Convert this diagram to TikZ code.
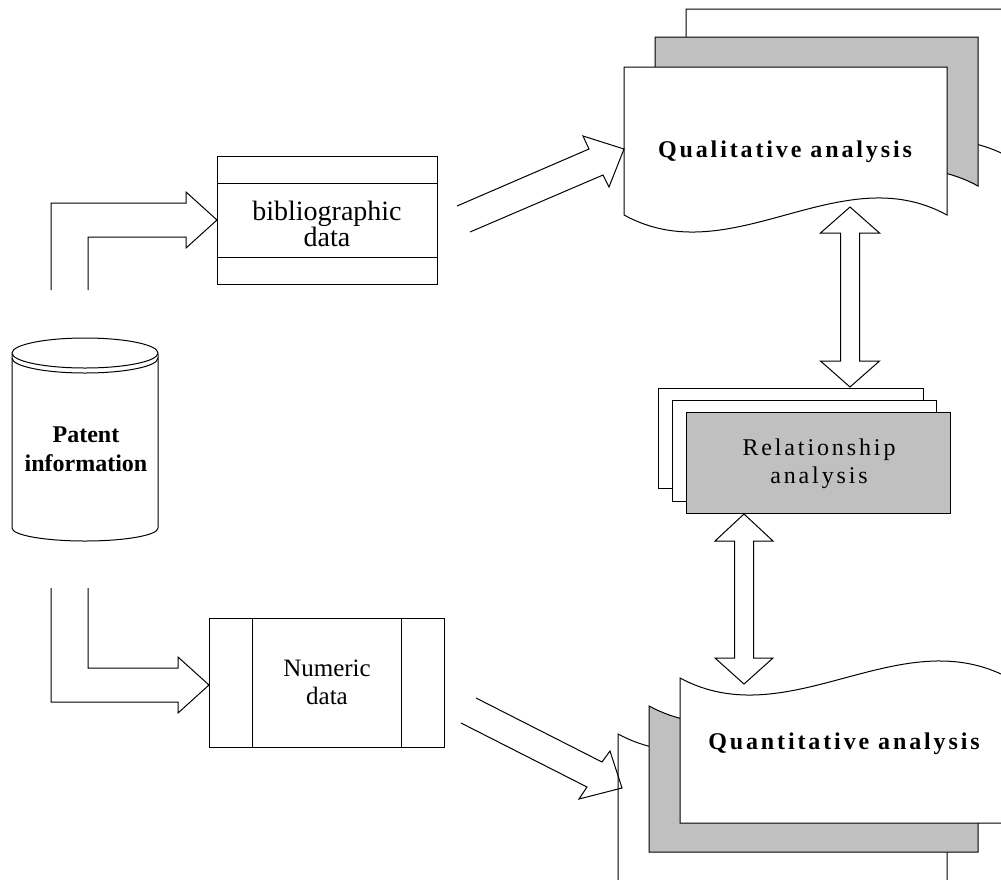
\documentclass[tikz,border=0pt]{standalone}
\usepackage{fontspec}
\setmainfont{Liberation Serif}
\newfontfamily\lsfont[LetterSpace=12]{Liberation Serif}
\newfontfamily\lsfontb[LetterSpace=12]{Liberation Serif}
\definecolor{sheetgray}{RGB}{192,192,192}
\tikzset{
  sheet/.style={draw=black, line width=1pt, line join=miter},
  blockarrow/.style={draw=black, line width=1pt, line join=miter},
  txt/.style={inner sep=0pt, align=center, text=black}
}
\newcommand\qualsheet[4]{\path[sheet, fill=#4] (#1,#2) -- (#1+323,#2) -- (#1+323,#3) .. controls (#1+215.33,#3-59) and (#1+107.67,#3+59) .. (#1,#3) -- cycle;}
\newcommand\quantsheet[4]{\path[sheet, fill=#4] (#1,#2) .. controls (#1+109.67,#2+59) and (#1+219.33,#2-59) .. (#1+329,#2) -- (#1+329,#3) -- (#1,#3) -- cycle;}
\begin{document}
\begin{tikzpicture}[x=1pt,y=-1pt]
\useasboundingbox (0,0) rectangle (1001,879);
\clip (0,0) rectangle (1001,879);
\fill[white] (0,0) rectangle (1001,879);

% Qualitative analysis stack
\qualsheet{686}{9}{157}{white}
\qualsheet{655}{37}{186}{sheetgray}
\qualsheet{624}{67}{215}{white}
\node[txt, anchor=base, font=\lsfont\bfseries\fontsize{24}{28}\selectfont] (qual) at (785,157) {Qualitative analysis};

% Quantitative analysis stack
\quantsheet{618}{734}{900}{white}
\quantsheet{649}{706}{852}{sheetgray}
\quantsheet{680}{678}{823}{white}
\node[txt, anchor=base, font=\lsfont\bfseries\fontsize{24}{28}\selectfont] (quant) at (844,749) {Quantitative analysis};

% Relationship analysis stack
\path[sheet, fill=white] (658,388) rectangle (923,488);
\path[sheet, fill=white] (672,400) rectangle (936,501);
\path[sheet, fill=sheetgray] (686,412) rectangle (950,513);
\node[txt, font=\lsfontb\fontsize{24}{28}\selectfont] (rel) at (819,464) {Relationship\\analysis};

% Bibliographic data
\path[sheet, fill=white] (217,156) rectangle (437,284);
\draw[sheet] (217,183) -- (437,183);
\draw[sheet] (217,257) -- (437,257);
\node[txt, font=\fontsize{28}{24}\selectfont] (bib) at (327,224) {bibliographic\\data};

% Numeric data
\path[sheet, fill=white] (209,618) rectangle (444,747);
\draw[sheet] (252,618) -- (252,747);
\draw[sheet] (401,618) -- (401,747);
\node[txt, font=\fontsize{25}{28}\selectfont] (num) at (327,682) {Numeric\\data};

% Patent information cylinder
\path[sheet, fill=white] (12,354) -- (12,528) .. controls (12,535.2) and (44.7,541) .. (85,541) .. controls (125.3,541) and (158,535.2) .. (158,528) -- (158,354);
\draw[sheet] (85,353) ellipse [x radius=73, y radius=15];
\draw[sheet] (12,358) .. controls (12,366.3) and (44.7,373) .. (85,373) .. controls (125.3,373) and (158,366.3) .. (158,358);
\node[txt, font=\bfseries\fontsize{24}{29}\selectfont] (pat) at (86,449.5) {Patent\\information};

% Bent block arrows from patent information
\draw[blockarrow] (51,290) -- (51,203) -- (186,203) -- (186,192) -- (217,220) -- (186,248) -- (186,237) -- (88,237) -- (88,290);
\draw[blockarrow] (51,588) -- (51,702) -- (178,702) -- (178,713) -- (209,685) -- (178,657) -- (178,668) -- (88,668) -- (88,588);

% Diagonal block arrows
\draw[blockarrow] (457,206) -- (589,149) -- (583,136) -- (624,149) -- (609,187) -- (603,175) -- (470,232);
\draw[blockarrow] (476,698) -- (602,762) -- (610,751) -- (622,788) -- (579,799) -- (587,787) -- (461,723);

% Double block arrows
\draw[blockarrow] (850,207) -- (879.5,233) -- (859.5,233) -- (859.5,361) -- (879.5,361) -- (850,387) -- (820.5,361) -- (840.5,361) -- (840.5,233) -- (820.5,233) -- cycle;
\draw[blockarrow] (744,514) -- (773,541) -- (753.5,541) -- (753.5,658) -- (773,658) -- (744,684) -- (715,658) -- (734.5,658) -- (734.5,541) -- (715,541) -- cycle;
\end{tikzpicture}
\end{document}
